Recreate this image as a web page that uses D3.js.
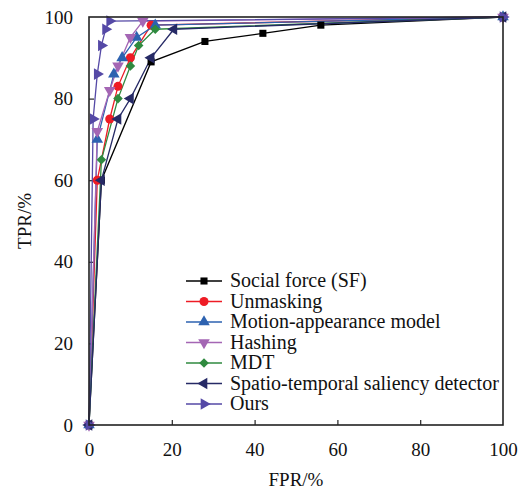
<!DOCTYPE html>
<html><head><meta charset="utf-8">
<script src="https://cdn.jsdelivr.net/npm/d3@7"></script>
<style>body{margin:0;background:#fff}svg{display:block}</style>
</head><body>
<svg id="c" width="525" height="490"></svg>
<script>
const seriesNames = ["Social force (SF)","Unmasking","Motion-appearance model","Hashing","MDT","Spatio-temporal saliency detector","Ours"];
const seriesColors = ["#000000","#ee1c25","#2d62b0","#a466b4","#2f8a3f","#262a66","#5549a6"];
const seriesMarkers = ["square","circle","triUp","triDown","diamond","triLeft","triRight"];
const fprSF = [0,3,15,28,42,56,100];
const tprSF = [0,60,89,94,96,98,100];
const fprUnmask = [0,2,5,7,10,15,100];
const tprUnmask = [0,60,75,83,90,98,100];
const fprMotion = [0,2,6,8,11.5,16,100];
const tprMotion = [0,70,86,90,95,98,100];
const fprHash = [0,2,5,7,10,13,100];
const tprHash = [0,72,82,88,95,99,100];
const fprMDT = [0,3,7,10,12,16,100];
const tprMDT = [0,65,80,88,93,97,100];
const fprSpatio = [0,3,7,10,15,20.5,100];
const tprSpatio = [0,60,75,80,90,97,100];
const fprOurs = [0,1,2,3,4,5,100];
const tprOurs = [0,75,86,93,97,99,100];
const xTicks = [0,20,40,60,80,100];
const yTicks = [0,20,40,60,80,100];

const fprs = [fprSF,fprUnmask,fprMotion,fprHash,fprMDT,fprSpatio,fprOurs];
const tprs = [tprSF,tprUnmask,tprMotion,tprHash,tprMDT,tprSpatio,tprOurs];

const svg = d3.select("#c");
const L=89,R=503,T=17,B=425;
const x = d3.scaleLinear().domain([0,100]).range([L,R]);
const y = d3.scaleLinear().domain([0,100]).range([B,T]);
const font = "'Liberation Serif','Times New Roman',serif";

function symbolPath(kind){
  switch(kind){
    case "square": return {p:d3.symbol(d3.symbolSquare,50)(),r:0};
    case "circle": return {p:d3.symbol(d3.symbolCircle,64)(),r:0};
    case "triUp": return {p:d3.symbol(d3.symbolTriangle,58)(),r:0};
    case "triDown": return {p:d3.symbol(d3.symbolTriangle,58)(),r:180};
    case "triLeft": return {p:d3.symbol(d3.symbolTriangle,58)(),r:-90};
    case "triRight": return {p:d3.symbol(d3.symbolTriangle,58)(),r:90};
    case "diamond": return {p:d3.symbol(d3.symbolSquare,46)(),r:45};
  }
}

// axes
const gx = svg.append("g").attr("transform",`translate(0,${B})`)
  .call(d3.axisBottom(x).tickValues(xTicks).tickSizeInner(-5).tickSizeOuter(0).tickPadding(18));
const gy = svg.append("g").attr("transform",`translate(${L},0)`)
  .call(d3.axisLeft(y).tickValues(yTicks).tickSizeInner(-5).tickSizeOuter(0).tickPadding(16));
[gx,gy].forEach(g=>{
  g.select(".domain").remove();
  g.selectAll("line").attr("stroke","#222").attr("stroke-width",1.2);
  g.selectAll("text").attr("font-family",font).attr("font-size",19).attr("fill","#111");
});
gx.selectAll(".tick").filter(d=>d===0||d===100).select("line").remove();
gy.selectAll(".tick").filter(d=>d===0||d===100).select("line").remove();

// series
const line = d3.line();
fprs.forEach((fx,i)=>{
  const pts = fx.map((v,j)=>[x(v),y(tprs[i][j])]);
  svg.append("path").attr("d",line(pts)).attr("fill","none")
    .attr("stroke",seriesColors[i]).attr("stroke-width",1.3);
});
fprs.forEach((fx,i)=>{
  const s = symbolPath(seriesMarkers[i]);
  svg.append("g").selectAll("path").data(fx.map((v,j)=>[v,tprs[i][j]])).join("path")
    .attr("d",s.p)
    .attr("transform",d=>`translate(${x(d[0])},${y(d[1])}) rotate(${s.r})`)
    .attr("fill",seriesColors[i]);
});

// frame
svg.append("rect").attr("x",L).attr("y",T).attr("width",R-L).attr("height",B-T)
  .attr("fill","none").attr("stroke","#222").attr("stroke-width",1.6);

// axis titles
svg.append("text").attr("x",(L+R)/2).attr("y",486).attr("text-anchor","middle")
  .attr("font-family",font).attr("font-size",19).attr("fill","#111").text("FPR/%");
svg.append("text").attr("transform",`translate(31,${(T+B)/2}) rotate(-90)`).attr("text-anchor","middle")
  .attr("font-family",font).attr("font-size",19).attr("fill","#111").text("TPR/%");

// legend
const lg = svg.append("g");
seriesNames.forEach((n,i)=>{
  const yy = 281 + i*20.5;
  lg.append("line").attr("x1",186).attr("x2",222).attr("y1",yy).attr("y2",yy)
    .attr("stroke",seriesColors[i]).attr("stroke-width",1.3);
  const s = symbolPath(seriesMarkers[i]);
  lg.append("path").attr("d",s.p).attr("transform",`translate(204,${yy}) rotate(${s.r})`)
    .attr("fill",seriesColors[i]);
  lg.append("text").attr("x",230).attr("y",yy+6).attr("font-family",font).attr("font-size",20)
    .attr("fill","#111").text(n);
});
</script>
</body></html>
